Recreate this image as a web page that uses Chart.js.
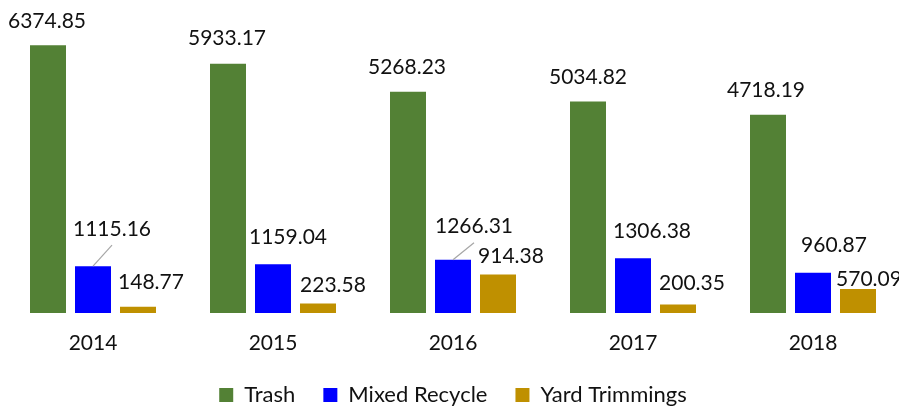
<!DOCTYPE html>
<html>
<head>
<meta charset="utf-8">
<script src="https://cdn.jsdelivr.net/npm/chart.js@4"></script>
<style>
  html, body { margin: 0; padding: 0; overflow: hidden; background: #fff; }
  #wrap { width: 906px; height: 408px; }
</style>
</head>
<body>
<div id="wrap"><canvas id="wasteChart"></canvas></div>
<script>
const years = ['2014', '2015', '2016', '2017', '2018'];
const trash = [6374.85, 5933.17, 5268.23, 5034.82, 4718.19];
const mixedRecycle = [1115.16, 1159.04, 1266.31, 1306.38, 960.87];
const yardTrimmings = [148.77, 223.58, 914.38, 200.35, 570.09];

// label nudges (px) relative to the top centre of each bar
const labelNudge = [
  { dx: [-1, -1, -1, 0, -2], dy: [-25, -26, -25, -25, -25], leader: [] },
  { dx: [19, 15, 21, 19, 21], dy: [-38, -28, -34, -28, -28], leader: [0, 2] },
  { dx: [13, 15, 13, 14, 11], dy: [-25, -19, -19, -22, -11], leader: [] },
];

const barLabels = {
  id: 'barLabels',
  afterDatasetsDraw(chart) {
    const ctx = chart.ctx;
    ctx.save();
    ctx.font = '21px Lato';
    ctx.fillStyle = '#111';
    ctx.textAlign = 'center';
    ctx.textBaseline = 'alphabetic';
    chart.data.datasets.forEach((ds, di) => {
      const meta = chart.getDatasetMeta(di);
      const nudge = labelNudge[di];
      meta.data.forEach((bar, i) => {
        const lx = bar.x + nudge.dx[i];
        const ly = bar.y + nudge.dy[i];
        if (nudge.leader.includes(i)) {
          ctx.strokeStyle = '#a6a6a6';
          ctx.lineWidth = 1.2;
          ctx.beginPath();
          ctx.moveTo(bar.x, bar.y);
          ctx.lineTo(lx, ly + 17);
          ctx.stroke();
        }
        ctx.fillText(ds.data[i].toFixed(2), lx, ly + 7.5);
      });
    });
    ctx.restore();
  }
};

// reserve less room for the legend, then put it back at the bottom
const legendPlace = {
  id: 'legendPlace',
  beforeInit(chart) {
    const fit = chart.legend.fit;
    chart.legend.fit = function () {
      fit.bind(chart.legend)();
      this.height = 33;
    };
  },
  afterLayout(chart) {
    const lg = chart.legend;
    lg.bottom = chart.height - 2;
    lg.top = lg.bottom - 50;
    lg.height = 50;
  }
};

new Chart(document.getElementById('wasteChart'), {
  type: 'bar',
  data: {
    labels: years,
    datasets: [
      { label: 'Trash', data: trash, backgroundColor: '#538135' },
      { label: 'Mixed Recycle', data: mixedRecycle, backgroundColor: '#0000ff' },
      { label: 'Yard Trimmings', data: yardTrimmings, backgroundColor: '#bf9000' },
    ],
  },
  options: {
    responsive: true,
    maintainAspectRatio: false,
    animation: false,
    categoryPercentage: 0.75,
    barPercentage: 0.8,
    layout: { padding: { left: 3, right: 3, top: 19, bottom: 2 } },
    scales: {
      y: { display: false, min: 0, max: 7000 },
      x: {
        grid: { display: false, drawTicks: false },
        border: { display: false },
        ticks: { color: '#111', font: { family: 'Lato', size: 21 }, padding: 17.4 },
      },
    },
    plugins: {
      tooltip: { enabled: false },
      legend: {
        position: 'bottom',
        labels: {
          boxWidth: 14,
          boxHeight: 14,
          padding: 28,
          color: '#111',
          font: { family: 'Lato', size: 22 },
        },
      },
    },
  },
  plugins: [barLabels, legendPlace],
});
</script>
</body>
</html>
